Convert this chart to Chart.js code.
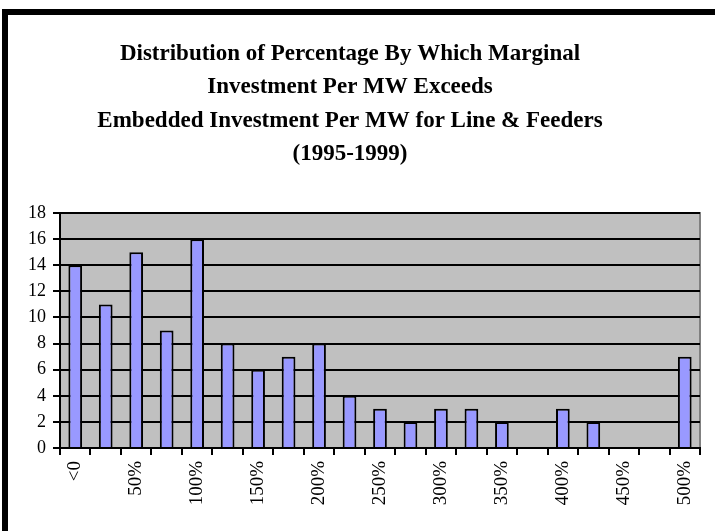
<!DOCTYPE html>
<html>
<head>
<meta charset="utf-8">
<script src="https://cdn.jsdelivr.net/npm/chart.js"></script>
<style>
  html, body { margin: 0; padding: 0; background: #fff; }
  #wrap { position: relative; width: 715px; height: 531px; }
</style>
</head>
<body>
<div id="wrap"><canvas id="chart" width="715" height="531"></canvas></div>
<script>
const titleLines = [
  'Distribution of Percentage By Which Marginal',
  'Investment Per MW Exceeds',
  'Embedded Investment Per MW for Line & Feeders',
  '(1995-1999)'
];
const categories = ['<0', '25%', '50%', '75%', '100%', '125%', '150%', '175%', '200%', '225%', '250%',
  '275%', '300%', '325%', '350%', '375%', '400%', '425%', '450%', '475%', '500%'];
const counts = [14, 11, 15, 9, 16, 8, 6, 7, 8, 4, 3, 2, 3, 3, 2, 0, 3, 2, 0, 0, 7];
const yTicks = { min: 0, max: 18, step: 2 };

// white page, black frame on top/left, grey plot area
const backdrop = {
  id: 'backdrop',
  beforeDraw(chart) {
    const { ctx, chartArea: a } = chart;
    ctx.save();
    ctx.fillStyle = '#fff';
    ctx.fillRect(0, 0, chart.width, chart.height);
    ctx.fillStyle = '#000';
    ctx.fillRect(2, 9, 6, chart.height - 9);
    ctx.fillRect(2, 9, chart.width - 2, 6);
    ctx.fillStyle = '#c0c0c0';
    ctx.fillRect(a.left, a.top, a.right - a.left, a.bottom - a.top);
    ctx.strokeStyle = '#808080';
    ctx.lineWidth = 2;
    ctx.beginPath();
    ctx.moveTo(a.left, a.top);
    ctx.lineTo(a.right, a.top);
    ctx.lineTo(a.right, a.bottom);
    ctx.stroke();
    ctx.restore();
  }
};

new Chart(document.getElementById('chart'), {
  type: 'bar',
  data: {
    labels: categories,
    datasets: [{
      data: counts,
      backgroundColor: '#9999ff',
      borderColor: '#000',
      borderWidth: 2,
      borderSkipped: 'bottom',
      barPercentage: 0.45,
      categoryPercentage: 1
    }]
  },
  plugins: [backdrop],
  options: {
    responsive: false,
    animation: false,
    layout: { padding: { left: 0, right: 15, top: 0, bottom: 0 } },
    plugins: {
      legend: { display: false },
      tooltip: { enabled: false },
      title: {
        display: true,
        text: titleLines,
        color: '#000',
        font: { family: 'Liberation Serif', size: 23, weight: 'bold', lineHeight: 1.457 },
        padding: { top: 37, bottom: 42 }
      }
    },
    scales: {
      x: {
        afterFit(s) { s.height = 83; },
        grid: { offset: true, drawOnChartArea: false, color: '#000', lineWidth: 2, tickLength: 7 },
        border: { color: '#000', width: 2 },
        ticks: {
          autoSkip: false, maxRotation: 90, minRotation: 90, color: '#000', padding: 6,
          font: { family: 'Liberation Serif', size: 19 },
          callback(v, i) { return i % 2 === 0 ? categories[i] : ''; }
        }
      },
      y: {
        min: yTicks.min, max: yTicks.max,
        afterFit(s) { s.width = 60; },
        grid: { color: '#000', lineWidth: 2, tickLength: 7 },
        border: { color: '#000', width: 2 },
        ticks: {
          stepSize: yTicks.step, color: '#000', padding: 7,
          font: { family: 'Liberation Serif', size: 18 }
        }
      }
    }
  }
});
</script>
</body>
</html>
